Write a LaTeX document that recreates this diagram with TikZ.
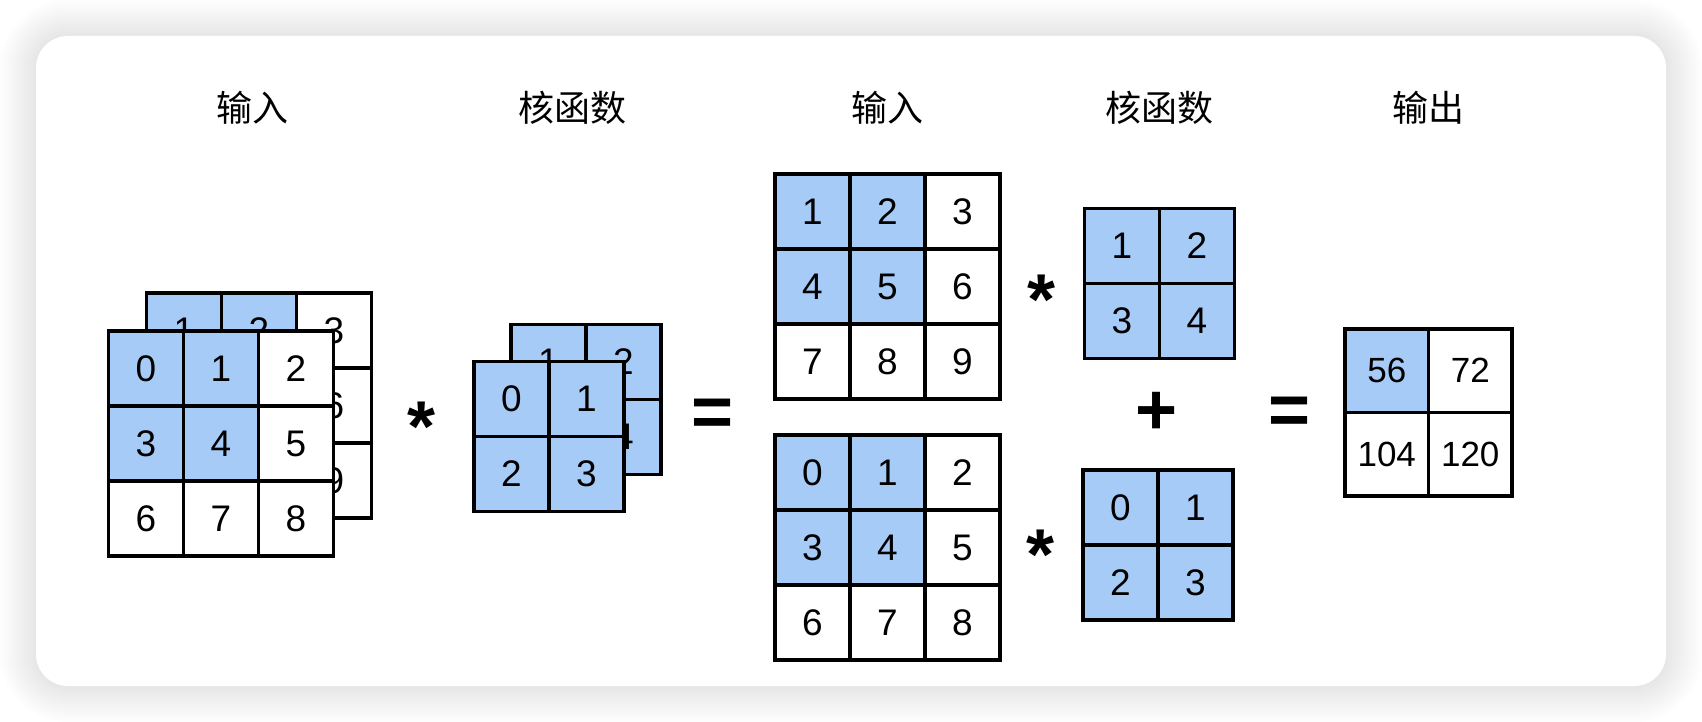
\documentclass[tikz,border=0pt]{standalone}
\usepackage{fontspec}
\setmainfont{Liberation Sans}
\newfontfamily\cjk{Noto Sans CJK SC}

\definecolor{cellblue}{RGB}{166,203,246}

\tikzset{
  cell/.style={draw=black, line width=1.7pt, inner sep=0pt, font=\fontsize{18.5}{21}\selectfont},
  bc/.style={fill=cellblue},
  wc/.style={fill=white},
  bo/.style={bc, font=\fontsize{17.5}{20}\selectfont},
  wo/.style={wc, font=\fontsize{17.5}{20}\selectfont},
  title/.style={font=\cjk\fontsize{18}{20}\selectfont},
  op/.style={inner sep=0pt, font=\bfseries\fontsize{36}{40}\selectfont},
}

% #1 name, #2 x of first cell, #3 y of first cell, #4 cell size, #5 row/col/value/fill
\newcommand{\gridcells}[5]{%
  \foreach \r/\c/\v/\f in {#5}
    \node[cell, \f, minimum size=#4*0.5pt] (#1\r\c) at ({#2+#4*\c}, {#3+#4*\r}) {\v};
}

\begin{document}
\begin{tikzpicture}[x=0.5pt, y=-0.5pt]
        \useasboundingbox (0,0) rectangle (1702,722);
        \fill[white] (0,0) rectangle (1702,722);
        \foreach \k [evaluate=\k as \rr using 16+1.5*\k] in {1,...,12}
          \fill[black, opacity=0.009, rounded corners=\rr pt] ({36-3*\k},{36-3*\k}) rectangle ({1666+3*\k},{686+3*\k});
        \fill[white, rounded corners=16pt] (36,36) rectangle (1666,686);

        \node[title] (tin1) at (252,108) {输入};
        \node[title] (tker1) at (572,108) {核函数};
        \node[title] (tin2) at (887,108) {输入};
        \node[title] (tker2) at (1159,108) {核函数};
        \node[title] (tout) at (1428,108) {输出};

        % input, two channels
        \gridcells{lb}{184}{330.5}{75}{0/0/1/bc, 0/1/2/bc, 0/2/3/wc, 1/0/4/bc, 1/1/5/bc, 1/2/6/wc, 2/0/7/wc, 2/1/8/wc, 2/2/9/wc}
        \gridcells{lf}{146}{368.5}{75}{0/0/0/bc, 0/1/1/bc, 0/2/2/wc, 1/0/3/bc, 1/1/4/bc, 1/2/5/wc, 2/0/6/wc, 2/1/7/wc, 2/2/8/wc}
        \node[op] (star1) at (422,427) {*};

        % kernel, two channels
        \gridcells{kb}{548.5}{362}{75}{0/0/1/bc, 0/1/2/bc, 1/0/3/bc, 1/1/4/bc}
        \gridcells{kf}{511.5}{399}{75}{0/0/0/bc, 0/1/1/bc, 1/0/2/bc, 1/1/3/bc}
        \node[op] (eq1) at (713,418) {=};

        % per channel
        \gridcells{mt}{812.5}{211.5}{75}{0/0/1/bc, 0/1/2/bc, 0/2/3/wc, 1/0/4/bc, 1/1/5/bc, 1/2/6/wc, 2/0/7/wc, 2/1/8/wc, 2/2/9/wc}
        \gridcells{mb}{812.5}{472.5}{75}{0/0/0/bc, 0/1/1/bc, 0/2/2/wc, 1/0/3/bc, 1/1/4/bc, 1/2/5/wc, 2/0/6/wc, 2/1/7/wc, 2/2/8/wc}
        \node[op] (star2) at (1041,300) {*};
        \node[op] (star3) at (1040,555) {*};
        \gridcells{kt}{1122}{246}{75}{0/0/1/bc, 0/1/2/bc, 1/0/3/bc, 1/1/4/bc}
        \gridcells{kd}{1120.5}{507.5}{75}{0/0/0/bc, 0/1/1/bc, 1/0/2/bc, 1/1/3/bc}
        \node[op] (plus1) at (1157,413) {+};
        \node[op] (eq2) at (1290,416) {=};

        % output
        \gridcells{out}{1386.75}{370.75}{83.5}{0/0/56/bo, 0/1/72/wo, 1/0/104/wo, 1/1/120/wo}

    \end{tikzpicture}
\end{document}
